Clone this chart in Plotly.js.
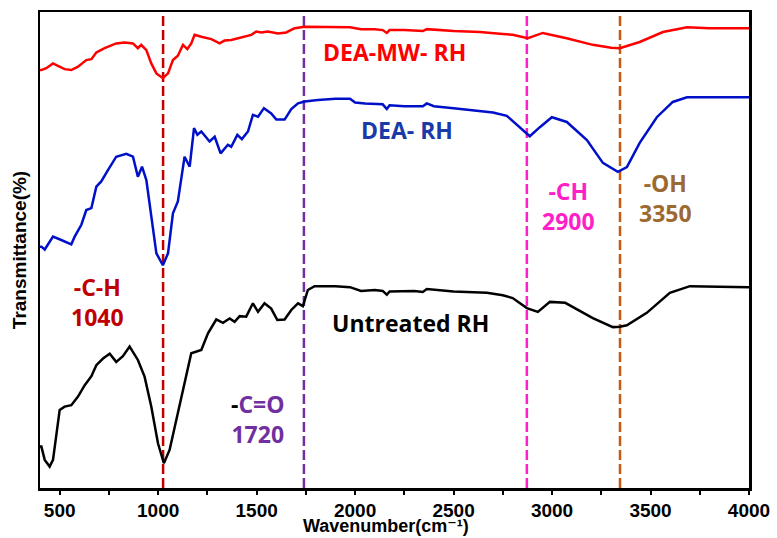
<!DOCTYPE html>
<html>
<head>
<meta charset="utf-8">
<script src="https://cdn.plot.ly/plotly-3.0.1.min.js"></script>
<style>html,body{margin:0;padding:0;background:#fff;}#chart{width:777px;height:538px;}</style>
</head>
<body>
<div id="chart"></div>
<script>
// Wavenumbers (cm-1) and relative transmittance for each sample
const redWn = [400, 407, 432, 466, 491, 525, 559, 593, 635, 661, 686, 728, 787, 830, 872, 897, 914, 940, 965, 991, 1024, 1050, 1075, 1100, 1126, 1148, 1168, 1185, 1219, 1270, 1312, 1337, 1371, 1405, 1430, 1473, 1498, 1524, 1557, 1608, 1650, 1693, 1744, 1811, 1900, 1974, 2030, 2100, 2140, 2161, 2175, 2250, 2344, 2364, 2500, 2633, 2750, 2800, 2877, 2953, 3074, 3207, 3300, 3344, 3445, 3563, 3685, 3800, 4000];
const redT  = [87.8, 87.8, 88.2, 89.2, 88.7, 88.0, 87.8, 88.5, 89.9, 90.1, 91.5, 92.4, 93.4, 93.6, 93.4, 92.4, 93.1, 92.0, 89.2, 87.1, 86.1, 87.1, 89.9, 90.8, 93.1, 92.2, 93.4, 95.2, 94.8, 94.3, 93.4, 94.0, 94.1, 94.5, 94.8, 95.2, 95.9, 95.7, 95.9, 95.5, 95.7, 96.6, 96.9, 96.9, 96.8, 96.8, 96.4, 96.4, 96.2, 95.6, 96.2, 96.2, 96.0, 96.4, 96.0, 95.8, 95.4, 95.2, 94.5, 95.6, 94.5, 93.1, 92.5, 92.4, 93.7, 95.8, 96.8, 96.6, 96.6];

const blueWn = [400, 407, 424, 466, 508, 542, 559, 576, 610, 635, 661, 686, 711, 745, 787, 838, 872, 897, 918, 940, 965, 991, 1024, 1050, 1075, 1100, 1134, 1160, 1182, 1199, 1219, 1261, 1287, 1317, 1354, 1371, 1402, 1425, 1456, 1481, 1507, 1537, 1574, 1600, 1642, 1676, 1710, 1744, 1811, 1900, 1974, 2000, 2050, 2140, 2161, 2175, 2250, 2344, 2364, 2400, 2500, 2633, 2700, 2770, 2836, 2887, 2938, 2999, 3075, 3177, 3258, 3334, 3380, 3445, 3532, 3613, 3685, 3800, 4000];
const blueT  = [50.7, 50.7, 50.1, 52.8, 52.1, 51.5, 51.2, 52.8, 55.3, 58.4, 58.8, 63.3, 64.4, 66.8, 69.6, 70.2, 69.6, 65.4, 67.5, 64.7, 57.0, 49.3, 46.8, 49.3, 57.7, 60.2, 69.6, 67.5, 75.6, 74.2, 74.9, 72.8, 73.8, 70.3, 72.1, 71.7, 74.2, 73.3, 74.9, 78.4, 78.0, 79.8, 78.7, 77.4, 77.4, 79.6, 80.8, 81.2, 81.5, 81.8, 81.8, 81.0, 80.8, 80.6, 79.6, 80.4, 80.2, 80.2, 80.8, 80.2, 79.8, 79.2, 78.9, 78.2, 75.8, 73.9, 75.8, 77.9, 76.9, 73.1, 68.3, 66.4, 67.4, 72.5, 77.9, 81.1, 82.1, 82.1, 82.1];

const blackWn = [400, 407, 424, 449, 466, 500, 525, 559, 593, 627, 661, 686, 720, 754, 787, 821, 855, 897, 931, 965, 999, 1029, 1058, 1092, 1134, 1168, 1219, 1253, 1295, 1329, 1363, 1388, 1414, 1447, 1481, 1507, 1540, 1574, 1605, 1642, 1676, 1710, 1735, 1760, 1794, 1900, 1974, 2030, 2100, 2140, 2161, 2175, 2300, 2344, 2364, 2500, 2669, 2750, 2800, 2850, 2872, 2928, 2989, 3067, 3207, 3309, 3344, 3380, 3481, 3598, 3700, 4000];
const blackT  = [8.7, 8.7, 5.9, 4.5, 5.9, 16.4, 17.1, 17.4, 19.2, 21.6, 23.5, 25.8, 27.2, 28.2, 26.5, 27.7, 29.7, 26.9, 23.4, 17.1, 9.4, 5.2, 8.0, 14.3, 22.7, 28.3, 29.0, 32.5, 35.4, 34.7, 35.6, 34.9, 36.1, 36.0, 38.8, 37.0, 38.8, 37.7, 35.3, 35.4, 37.4, 38.8, 38.2, 41.6, 42.4, 42.4, 42.2, 41.4, 41.6, 41.4, 40.6, 41.3, 41.4, 41.2, 41.8, 41.3, 41.0, 40.5, 39.9, 38.4, 37.8, 37.0, 39.1, 38.9, 35.7, 33.8, 33.9, 34.2, 36.8, 41.0, 42.4, 42.2];

// Marked band positions (cm-1) and their colours
const peakPositions = [1025, 1740, 2872, 3345];
const peakColors = ['#C00000', '#7030A0', '#FF1FC8', '#C55A11'];

const xTicks = [500, 1000, 1500, 2000, 2500, 3000, 3500, 4000];

const traces = [
  {x: redWn, y: redT, mode: 'lines', line: {color: '#FF0000', width: 2.5}, name: 'DEA-MW- RH'},
  {x: blueWn, y: blueT, mode: 'lines', line: {color: '#0010C8', width: 2.5}, name: 'DEA- RH'},
  {x: blackWn, y: blackT, mode: 'lines', line: {color: '#000000', width: 2.5}, name: 'Untreated RH'}
];

const shapes = peakPositions.map((p, i) => ({
  type: 'line', xref: 'x', yref: 'paper', x0: p, x1: p, y0: 0, y1: 1,
  line: {color: peakColors[i], width: 2.5, dash: '10px,4px'}, layer: 'below'
}));

const af = 'Open Sans, Arial, sans-serif';
const annotations = [
  {x: 2199, y: 91.6, text: 'DEA-MW- RH', color: '#FF0000'},
  {x: 2263, y: 75.3, text: 'DEA- RH', color: '#1A3AA8'},
  {x: 2283, y: 34.7, text: 'Untreated RH', color: '#000000'},
  {x: 3085, y: 59.3, text: '-CH<br>2900', color: '#FF1FC8'},
  {x: 3578, y: 60.9, text: '-OH<br>3350', color: '#9C6A30'},
  {x: 694, y: 39.1, text: '-C-H<br>1040', color: '#C00000'},
  {x: 1507, y: 14.5, text: '<span style="color:#000">-</span>C=O<br>1720', color: '#7030A0'}
].map(a => ({
  x: a.x, y: a.y, xref: 'x', yref: 'y', text: '<b>' + a.text + '</b>', showarrow: false,
  font: {family: af, size: 23, color: a.color}, align: 'center'
}));

// x-axis title placed just under the tick labels, as in the reference
annotations.push({
  x: 0.488, y: -0.105, xref: 'paper', yref: 'paper', xanchor: 'center', yanchor: 'bottom',
  text: '<b>Wavenumber(cm\u207B\u00B9)</b>', showarrow: false,
  font: {family: 'Liberation Sans, DejaVu Sans, Arial, sans-serif', size: 18, color: '#000'}
});

const layout = {
  width: 777, height: 538,
  margin: {l: 40, r: 28, t: 12, b: 50},
  paper_bgcolor: '#fff', plot_bgcolor: '#fff',
  showlegend: false,
  xaxis: {
    range: [400, 4000], tickvals: xTicks, ticktext: xTicks.map(String),
    ticks: 'outside', ticklen: 4, tickwidth: 2, tickcolor: '#000',
    minor: {dtick: 250, tick0: 250, ticks: 'outside', ticklen: 4, tickwidth: 2, tickcolor: '#000'},
    showline: true, linecolor: '#000', linewidth: 2.5, mirror: true,
    showgrid: false, zeroline: false,
    tickfont: {family: 'Liberation Sans, Arial, sans-serif', size: 19, color: '#000', weight: 'bold'}
  },
  yaxis: {
    range: [0, 100], showticklabels: false, ticks: '',
    showline: true, linecolor: '#000', linewidth: 2.5, mirror: true,
    showgrid: false, zeroline: false,
    title: {text: '<b>Transmittance(%)</b>', font: {family: 'Liberation Sans, Arial, sans-serif', size: 19, color: '#000'}, standoff: 6}
  },
  shapes: shapes,
  annotations: annotations
};

Plotly.newPlot('chart', traces, layout, {displayModeBar: false, staticPlot: true});
</script>
</body>
</html>
